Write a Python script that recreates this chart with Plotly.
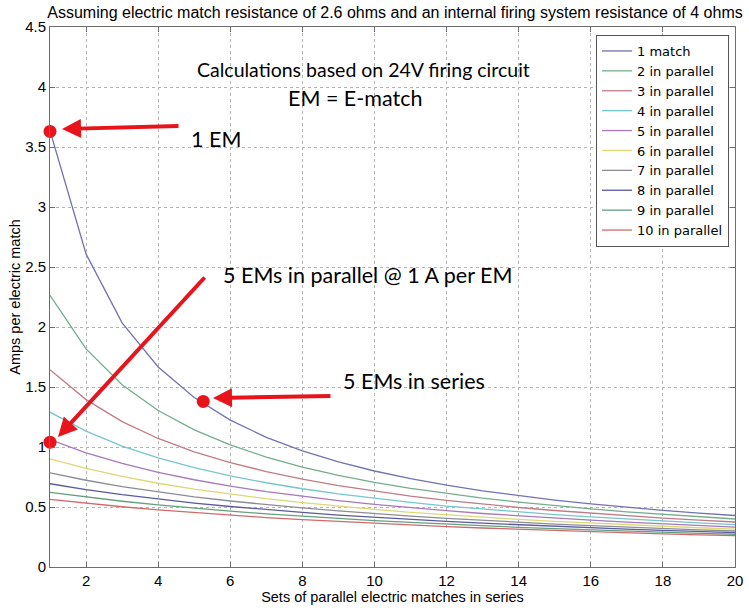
import plotly.graph_objects as go

sets_in_series = list(range(1, 21))

one_match = [3.636, 2.609, 2.034, 1.667, 1.412, 1.224, 1.081, 0.968, 0.876, 0.800,
             0.736, 0.682, 0.635, 0.594, 0.558, 0.526, 0.498, 0.472, 0.449, 0.429]
par2 = [2.264, 1.818, 1.519, 1.304, 1.143, 1.017, 0.916, 0.833, 0.764, 0.706,
        0.656, 0.612, 0.574, 0.541, 0.511, 0.484, 0.460, 0.438, 0.418, 0.400]
par3 = [1.644, 1.395, 1.212, 1.071, 0.960, 0.870, 0.795, 0.732, 0.678, 0.632,
        0.591, 0.556, 0.524, 0.496, 0.471, 0.448, 0.427, 0.408, 0.391, 0.375]
par4 = [1.290, 1.132, 1.008, 0.909, 0.828, 0.759, 0.702, 0.652, 0.609, 0.571,
        0.538, 0.508, 0.482, 0.458, 0.436, 0.417, 0.399, 0.382, 0.367, 0.353]
par5 = [1.062, 0.952, 0.863, 0.789, 0.727, 0.674, 0.628, 0.588, 0.553, 0.522,
        0.494, 0.469, 0.446, 0.426, 0.407, 0.390, 0.374, 0.359, 0.346, 0.333]
par6 = [0.902, 0.822, 0.755, 0.698, 0.649, 0.606, 0.569, 0.536, 0.506, 0.480,
        0.456, 0.435, 0.415, 0.397, 0.381, 0.366, 0.352, 0.339, 0.327, 0.316]
par7 = [0.784, 0.723, 0.670, 0.625, 0.585, 0.550, 0.519, 0.492, 0.467, 0.444,
        0.424, 0.405, 0.388, 0.373, 0.358, 0.345, 0.332, 0.321, 0.310, 0.300]
par8 = [0.694, 0.645, 0.603, 0.566, 0.533, 0.504, 0.478, 0.455, 0.433, 0.414,
        0.396, 0.380, 0.365, 0.351, 0.338, 0.326, 0.315, 0.305, 0.295, 0.286]
par9 = [0.622, 0.583, 0.548, 0.517, 0.490, 0.465, 0.443, 0.423, 0.404, 0.387,
        0.372, 0.357, 0.344, 0.331, 0.320, 0.309, 0.299, 0.290, 0.281, 0.273]
par10 = [0.563, 0.531, 0.502, 0.476, 0.453, 0.432, 0.412, 0.395, 0.379, 0.364,
         0.350, 0.337, 0.325, 0.314, 0.304, 0.294, 0.285, 0.276, 0.268, 0.261]

series_names = ["1 match", "2 in parallel", "3 in parallel", "4 in parallel", "5 in parallel",
                "6 in parallel", "7 in parallel", "8 in parallel", "9 in parallel", "10 in parallel"]
series_values = [one_match, par2, par3, par4, par5, par6, par7, par8, par9, par10]
series_colors = ["#7272b2", "#72ae8c", "#c07c86", "#74c6cc", "#a878bc",
                 "#dcd874", "#8c8c96", "#5a5aa0", "#62a07e", "#d06a6a"]

x_ticks = [2, 4, 6, 8, 10, 12, 14, 16, 18, 20]
y_ticks = [0, 0.5, 1, 1.5, 2, 2.5, 3, 3.5, 4, 4.5]
y_tick_labels = ["0", "0.5", "1", "1.5", "2", "2.5", "3", "3.5", "4", "4.5"]

# highlighted points (annotation overlays)
mark_x = [1, 1, 5.25]
mark_y = [3.63, 1.04, 1.38]

fig = go.Figure()
for name, vals, col in zip(series_names, series_values, series_colors):
    fig.add_trace(go.Scatter(x=sets_in_series, y=vals, mode="lines", name=name,
                             line=dict(color=col, width=1.3)))

fig.add_trace(go.Scatter(x=mark_x, y=mark_y, mode="markers", showlegend=False,
                         marker=dict(color="#e8141c", size=13), cliponaxis=False))

L, R, T, B = 50, 14, 27, 43
W, H = 749, 610
pw, ph = W - L - R, H - T - B


def px(xp):
    return (xp - L) / pw


def py(yp):
    return (H - B - yp) / ph


red = "#e8141c"
afont = dict(family="Lato, Open Sans, sans-serif", size=21.5, color="black")


def arrow(tip, tail):
    return dict(x=px(tip[0]), y=py(tip[1]), xref="paper", yref="paper",
                ax=tail[0] - tip[0], ay=tail[1] - tip[1], axref="pixel", ayref="pixel",
                text="", showarrow=True, arrowhead=2, arrowsize=0.95, arrowwidth=4,
                arrowcolor=red)


annotations = [
    dict(text="Calculations based on 24V firing circuit", x=px(363), y=py(56), xref="paper", yref="paper",
         showarrow=False, font=dict(family="Lato, Open Sans, sans-serif", size=19.5, color="black")),
    dict(text="EM = E-match", x=px(355), y=py(83), xref="paper", yref="paper",
         showarrow=False, font=dict(family="Lato, Open Sans, sans-serif", size=21.5, color="black")),
    dict(text="1 EM", x=px(189), y=py(124), xref="paper", yref="paper", xanchor="left",
         showarrow=False, font=afont),
    dict(text="5 EMs in parallel @ 1 A per EM", x=px(221), y=py(275), xref="paper", yref="paper",
         xanchor="left", showarrow=False, font=afont),
    dict(text="5 EMs in series", x=px(341), y=py(396), xref="paper", yref="paper",
         xanchor="left", showarrow=False, font=afont),
    arrow((62, 129), (180, 126)),
    arrow((58, 437), (206, 276)),
    arrow((213, 398), (332, 396)),
]

axis_common = dict(showline=True, linecolor="#6e6e6e", linewidth=1, mirror="ticks",
                   ticks="inside", ticklen=5, tickcolor="#6e6e6e", automargin=False,
                   showgrid=True, gridcolor="#b4b4b4", griddash="dot", gridwidth=1,
                   zeroline=False, tickfont=dict(family="Liberation Sans, Arial", size=15, color="black"))

fig.update_layout(
    width=W, height=H,
    margin=dict(l=L, r=R, t=T, b=B),
    paper_bgcolor="white", plot_bgcolor="white",
    title=dict(text="Assuming electric match resistance of 2.6 ohms and an internal firing system resistance of 4 ohms",
               x=395 / W, xanchor="center", y=1 - 12 / H, yanchor="middle",
               font=dict(family="Liberation Sans, Arial", size=16, color="black")),
    xaxis=dict(range=[1, 20], tickvals=x_ticks,
               title=dict(text="Sets of parallel electric matches in series", standoff=2,
                          font=dict(family="Liberation Sans, Arial", size=14.5, color="black")),
               **axis_common),
    yaxis=dict(range=[0, 4.5], tickvals=y_ticks, ticktext=y_tick_labels,
               title=dict(text="Amps per electric match", standoff=1,
                          font=dict(family="Liberation Sans, Arial", size=14.5, color="black")),
               **axis_common),
    legend=dict(x=px(729), y=py(35), xanchor="right", yanchor="top",
                bgcolor="white", bordercolor="#555555", borderwidth=1,
                font=dict(family="DejaVu Sans", size=13, color="black"),
                tracegroupgap=0, itemwidth=30),
    annotations=annotations,
    showlegend=True,
)

fig.write_html("out.html", config={"displayModeBar": False},
               post_script="document.body.style.margin='0';")
